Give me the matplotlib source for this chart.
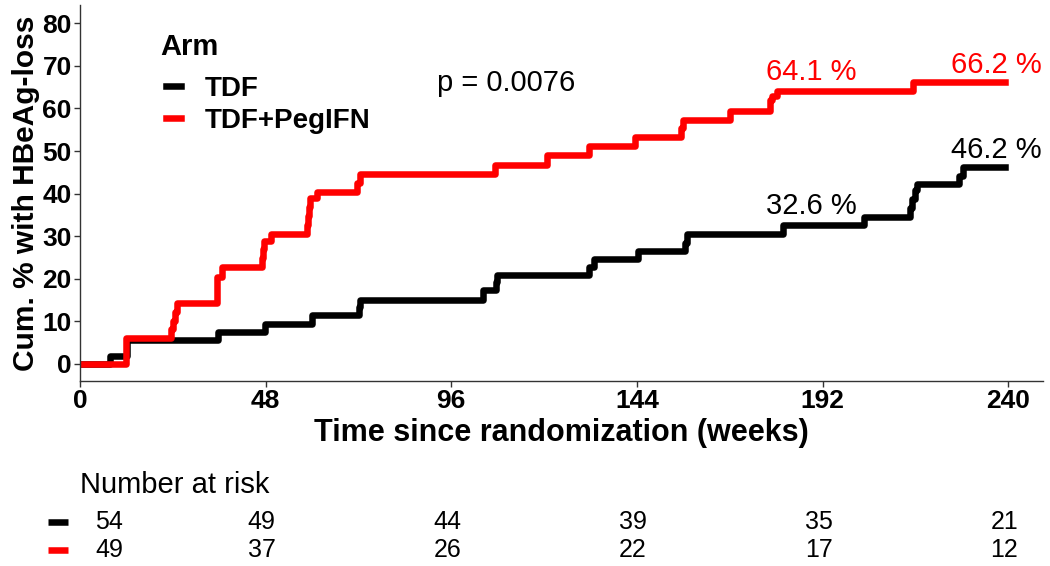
import matplotlib
matplotlib.use("Agg")
import matplotlib.pyplot as plt
import matplotlib.transforms as mtransforms

plt.rcParams["font.family"] = ["Liberation Sans", "DejaVu Sans"]

# step data (weeks, cumulative %)
tdf_weeks = [0, 7.8, 12.1, 35.8, 47.8, 59.9, 72.2, 72.5, 104.3, 107.5, 107.9,
             131.5, 132.8, 144.3, 156.5, 156.9, 181.9, 202.6, 214.6, 215.2,
             215.8, 216.4, 227.2, 228.4, 239.2]
tdf_cum = [0, 1.9, 5.7, 7.6, 9.5, 11.5, 13.3, 15.1, 17.3, 19.2, 20.8,
           22.7, 24.6, 26.6, 28.5, 30.5, 32.6, 34.4, 36.6, 38.8,
           40.9, 42.3, 44.2, 46.2, 46.2]

peg_weeks = [0, 11.9, 23.6, 24.1, 24.6, 25.0, 35.3, 36.6, 47.0, 47.3, 47.6,
             49.5, 58.6, 58.9, 59.2, 59.5, 61.2, 71.5, 72.4, 107.3, 120.7,
             131.5, 143.5, 155.4, 155.8, 168.1, 178.4, 179.0, 180.1, 215.5,
             239.2]
peg_cum = [0, 6.1, 8.2, 10.2, 12.2, 14.3, 20.4, 22.7, 24.8, 26.9, 28.8,
           30.5, 32.6, 34.7, 36.8, 38.9, 40.5, 42.5, 44.7, 46.7, 49.1,
           51.2, 53.3, 55.3, 57.2, 59.5, 61.9, 63.0, 64.1, 66.2,
           66.2]

risk_weeks = [0, 48, 96, 144, 192, 240]
risk_tdf = [54, 49, 44, 39, 35, 21]
risk_peg = [49, 37, 26, 22, 17, 12]

# labels at 180 and 240 weeks
label_tdf = [(189, 37.0, "32.6 %"), (237, 50.3, "46.2 %")]
label_peg = [(189, 68.6, "64.1 %"), (237, 70.2, "66.2 %")]

fig = plt.figure(figsize=(10.5, 5.66), dpi=100)
ax = fig.add_axes([80 / 1050, 1 - 381 / 566, 963 / 1050, 376 / 566])

ax.step(tdf_weeks, tdf_cum, where="post", color="black", lw=4.7, label="TDF")
ax.step(peg_weeks, peg_cum, where="post", color="red", lw=4.7, label="TDF+PegIFN")

for x, y, s in label_tdf:
    ax.text(x, y, s, color="black", fontsize=21, ha="center", va="center")
for x, y, s in label_peg:
    ax.text(x, y, s, color="red", fontsize=21, ha="center", va="center")

ax.text(110.2, 66.0, "p = 0.0076", fontsize=21, ha="center", va="center")

ax.set_xlim(0, 249)
ax.set_ylim(-4, 84.3)
ax.set_xticks(risk_weeks)
ax.set_yticks(range(0, 81, 10))
for lab in ax.get_xticklabels() + ax.get_yticklabels():
    lab.set_fontweight("bold")
ax.tick_params(labelsize=19, length=4, width=1, color="#333333", pad=2)
for side in ["top", "right"]:
    ax.spines[side].set_visible(False)
for side in ["left", "bottom"]:
    ax.spines[side].set_color("#333333")
    ax.spines[side].set_linewidth(1)

ax.set_xlabel("Time since randomization (weeks)", fontsize=22, fontweight="bold", labelpad=3)
ax.set_ylabel("Cum. % with HBeAg-loss", fontsize=21.5, fontweight="bold", labelpad=2)

# legend
fig.text(160 / 1050, 1 - 47 / 566, "Arm", fontsize=21, fontweight="bold", ha="left", va="center")
ax.legend(loc="upper left", bbox_to_anchor=(166 / 1050, 1 - 76 / 566),
          bbox_transform=fig.transFigure, frameon=False, handlelength=0.53,
          handletextpad=0.85, labelspacing=0.22, borderpad=0, borderaxespad=0,
          prop={"size": 20, "weight": "bold"})

# number at risk table
trans = mtransforms.blended_transform_factory(ax.transData, fig.transFigure)
fig.text(80 / 1050, 1 - 485 / 566, "Number at risk", fontsize=21, ha="left", va="center")
rows = [(1 - 522 / 566, risk_tdf, "black"), (1 - 550 / 566, risk_peg, "red")]
for y, counts, col in rows:
    for i, (w, n) in enumerate(zip(risk_weeks, counts)):
        if i == 0:
            ax.text(w + 3.9, y, str(n), transform=trans, fontsize=18, ha="left",
                    va="center", clip_on=False)
        else:
            ax.text(w - 1, y, str(n), transform=trans, fontsize=18, ha="center",
                    va="center", clip_on=False)
    ax.plot([-8.2, -3.2], [y, y], transform=trans, color=col, lw=4.7,
            solid_capstyle="butt", clip_on=False)

fig.savefig("out.png", dpi=100)
